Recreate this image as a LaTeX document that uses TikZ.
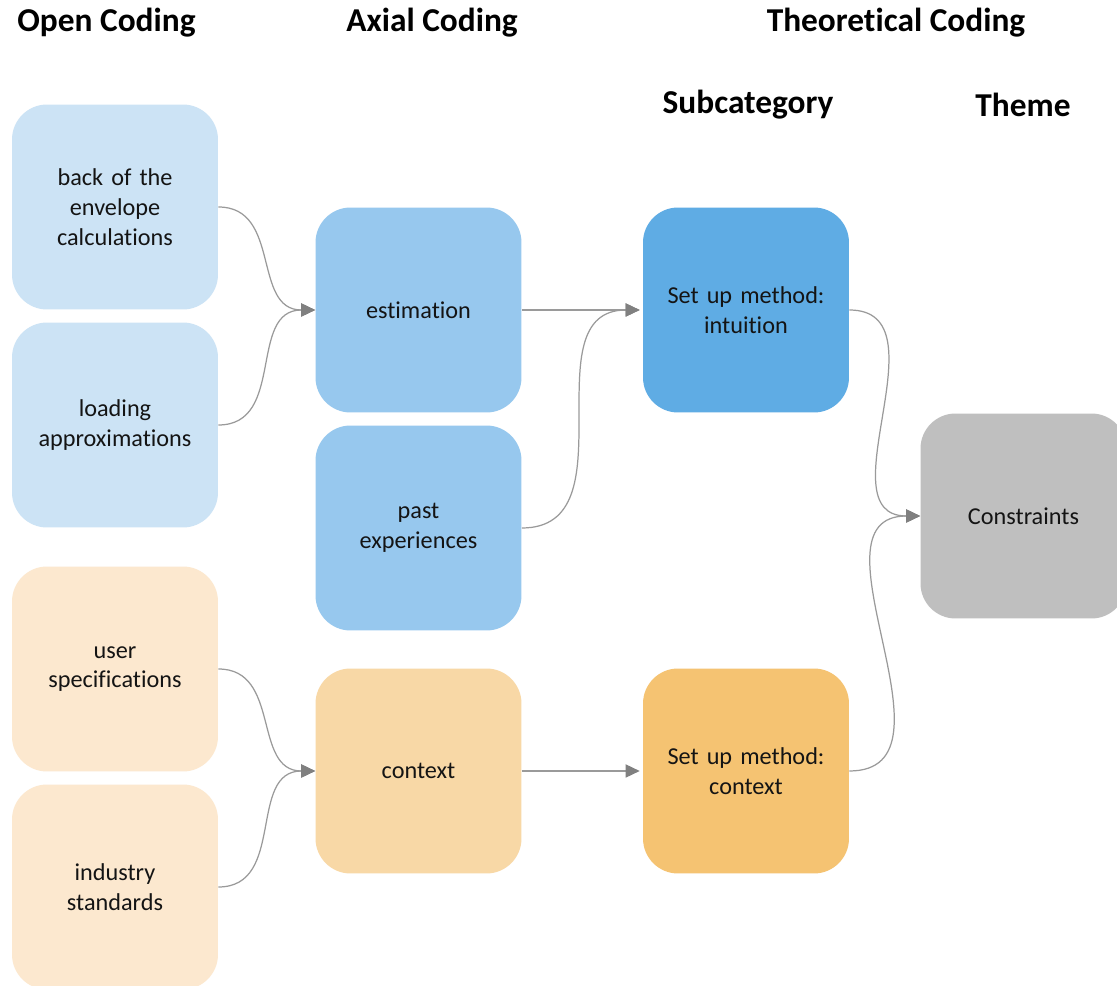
\documentclass[tikz,border=0pt]{standalone}
\usepackage{fontspec}
\setmainfont{Carlito}[Ligatures={NoCommon,NoRare,NoDiscretionary},Contextuals=NoAlternate]
\usetikzlibrary{arrows.meta}
\definecolor{ocblue}{HTML}{CCE3F5}
\definecolor{axblue}{HTML}{97C8EE}
\definecolor{scblue}{HTML}{5FACE4}
\definecolor{ocorange}{HTML}{FCE8CF}
\definecolor{axorange}{HTML}{F8D8A6}
\definecolor{scorange}{HTML}{F5C372}
\definecolor{thgray}{HTML}{BFBFBF}
\definecolor{linkgray}{HTML}{9A9A9A}
\definecolor{tipgray}{HTML}{808080}
\tikzset{
  card/.style={rounded corners=0.7cm, minimum width=4.12cm, minimum height=4.1cm,
    inner sep=0pt, align=center, text width=3.8cm,
    font=\fontsize{13.8pt}{17pt}\selectfont, text=black!92},
  header/.style={font=\fontsize{19pt}{22pt}\selectfont\bfseries, inner sep=0pt},
  link/.style={draw=linkgray, line width=0.7pt, out=0, in=180, looseness=1.15,
    -{Triangle[length=8pt,width=7.5pt,fill=tipgray,color=tipgray]}},
}
\begin{document}
\begin{tikzpicture}[x=0.02cm,y=-0.02cm]
\useasboundingbox (0,0) rectangle (1117,986);
\clip (0,0) rectangle (1117,986);
\fill[white] (0,0) rectangle (1117,986);
% headers
\node[header, anchor=west] (h1) at (17,23) {Open Coding};
\node[header] (h2) at (432,23) {Axial Coding};
\node[header] (h3) at (896,23) {Theoretical Coding};
\node[header] (h4) at (748,105) {Subcategory};
\node[header] (h5) at (1023,105) {Theme};
% open coding
\node[card, fill=ocblue] (o1) at (115,207) {back of the\\envelope\\calculat\kern0pt ions};
\node[card, fill=ocblue] (o2) at (115,425) {loading\\approximat\kern0pt ions};
\node[card, fill=ocorange] (o3) at (115,669) {user\\specificat\kern0pt ions};
\node[card, fill=ocorange] (o4) at (115,887) {industry\\standards};
% axial coding
\node[card, fill=axblue] (a1) at (418.5,310) {estimat\kern0pt ion};
\node[card, fill=axblue] (a2) at (418.5,528) {past\\experiences};
\node[card, fill=axorange] (a3) at (418.5,771) {context};
% subcategory
\node[card, fill=scblue] (s1) at (746,310) {Set up method:\\intuit\kern0pt ion};
\node[card, fill=scorange] (s2) at (746,771) {Set up method:\\context};
% theme
\node[card, fill=thgray] (t1) at (1023.5,516) {Constraints};
% links
\draw[link] (o1.east) to (a1.west);
\draw[link] (o2.east) to (a1.west);
\draw[link] (o3.east) to (a3.west);
\draw[link] (o4.east) to (a3.west);
\draw[link] (a1.east) to ([xshift=-0.06cm]s1.west);
\draw[link] (a2.east) to ([xshift=-0.06cm]s1.west);
\draw[link] (a3.east) to ([xshift=-0.06cm]s2.west);
\draw[link] (s1.east) to (t1.west);
\draw[link] (s2.east) to (t1.west);
\end{tikzpicture}
\end{document}
